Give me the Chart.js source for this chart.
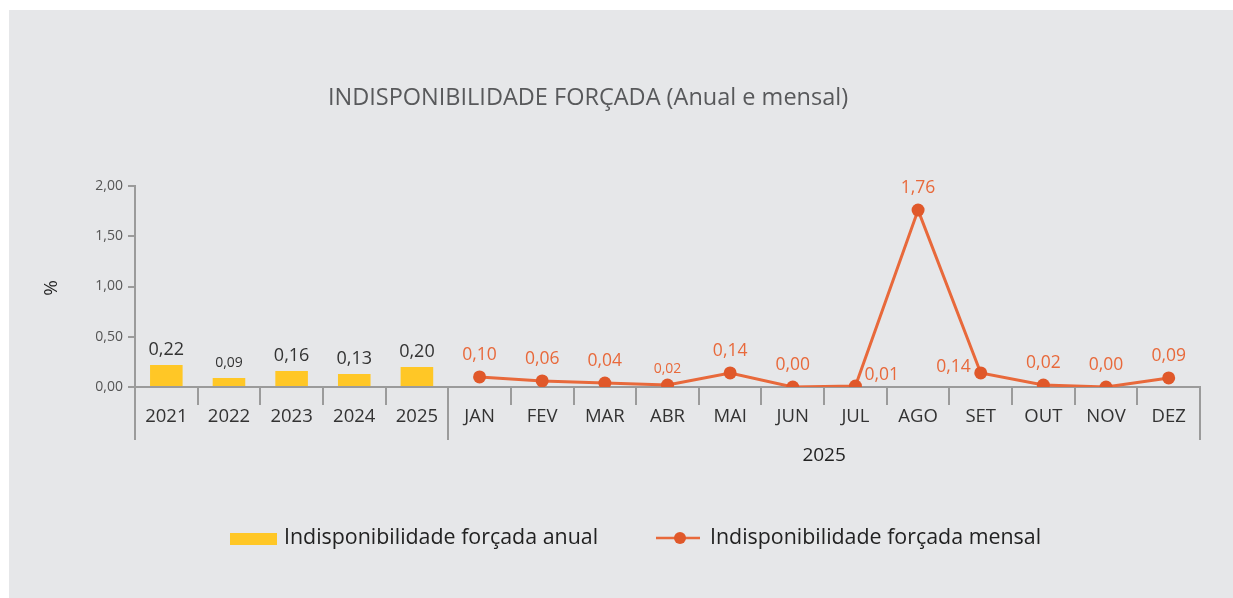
<!DOCTYPE html>
<html>
<head>
<meta charset="utf-8">
<script src="https://cdn.jsdelivr.net/npm/chart.js@4/dist/chart.umd.min.js"></script>
<style>
  html, body { margin: 0; padding: 0; background: #ffffff; }
  #panel { position: absolute; left: 9px; top: 10px; width: 1224px; height: 588px; background: #e6e7e9; }
  canvas { display: block; }
</style>
</head>
<body>
<div id="panel"><canvas id="chart" width="1224" height="588"></canvas></div>
<script>
const categories = ['2021', '2022', '2023', '2024', '2025', 'JAN', 'FEV', 'MAR', 'ABR', 'MAI', 'JUN', 'JUL', 'AGO', 'SET', 'OUT', 'NOV', 'DEZ'];
const annualValues = [0.22, 0.09, 0.16, 0.13, 0.20];
const monthlyValues = [0.10, 0.06, 0.04, 0.02, 0.14, 0.00, 0.01, 1.76, 0.14, 0.02, 0.00, 0.09];
const yTicks = [0, 0.5, 1, 1.5, 2];
const groupLabel = '2025';
const titleText = 'INDISPONIBILIDADE FORÇADA (Anual e mensal)';
const annualName = 'Indisponibilidade forçada anual';
const monthlyName = 'Indisponibilidade forçada mensal';

const FONT = '"Open Sans", "Noto Sans", sans-serif';
const AXIS = '#9b9b9b';
const YELLOW = '#ffc726';
const ORANGE = '#e0582a';
const ORANGE_TXT = '#e8693b';

// pad the series so bars sit on the years and the line on the months
const barData = annualValues.concat(monthlyValues.map(() => null));
const lineData = annualValues.map(() => null).concat(monthlyValues);

// label placement for the line points (small ones are drawn smaller)
const lineLabelPos = ['top', 'top', 'top', 'top', 'top', 'top', 'right', 'top', 'left', 'top', 'top', 'top'];
const lineLabelSize = [17.5, 17.5, 17.5, 14, 17.5, 17.5, 17.5, 17.5, 17.5, 17.5, 17.5, 17.5];
const barLabelSize = [18, 14, 18, 18, 18];

const fmt = v => v.toFixed(2).replace('.', ',');

const extras = {
  id: 'extras',
  afterDraw(chart) {
    const ctx = chart.ctx;
    const x = chart.scales.x;
    const area = chart.chartArea;
    const step = x.getPixelForValue(1) - x.getPixelForValue(0);
    ctx.save();

    // long separator ticks
    ctx.strokeStyle = AXIS;
    ctx.lineWidth = 2;
    [0, annualValues.length, categories.length].forEach(i => {
      const px = Math.round(x.getPixelForValue(0) - step / 2 + i * step);
      ctx.beginPath();
      ctx.moveTo(px, area.bottom);
      ctx.lineTo(px, area.bottom + 53);
      ctx.stroke();
    });

    // bar value labels
    const barMeta = chart.getDatasetMeta(0);
    ctx.textAlign = 'center';
    ctx.textBaseline = 'middle';
    ctx.fillStyle = '#333';
    annualValues.forEach((v, i) => {
      const el = barMeta.data[i];
      ctx.font = barLabelSize[i] + 'px ' + FONT;
      ctx.fillText(fmt(v), el.x, el.y - 15);
    });

    // line value labels
    const lineMeta = chart.getDatasetMeta(1);
    ctx.fillStyle = ORANGE_TXT;
    monthlyValues.forEach((v, i) => {
      const el = lineMeta.data[annualValues.length + i];
      ctx.font = lineLabelSize[i] + 'px ' + FONT;
      const pos = lineLabelPos[i];
      if (pos === 'right') {
        ctx.textAlign = 'left';
        ctx.fillText(fmt(v), el.x + 9, el.y - 11);
      } else if (pos === 'left') {
        ctx.textAlign = 'right';
        ctx.fillText(fmt(v), el.x - 10, el.y - 6);
      } else {
        ctx.textAlign = 'center';
        ctx.fillText(fmt(v), el.x, el.y - (lineLabelSize[i] < 16 ? 16 : 22));
      }
    });

    // group label under the months
    const gx = (x.getPixelForValue(annualValues.length) + x.getPixelForValue(categories.length - 1)) / 2;
    ctx.textAlign = 'center';
    ctx.fillStyle = '#222';
    ctx.font = '19px ' + FONT;
    ctx.fillText(groupLabel, gx, area.bottom + 69);

    // title
    ctx.fillStyle = '#58595b';
    ctx.font = '23.5px ' + FONT;
    ctx.fillText(titleText, 579, 88);

    // y axis name
    ctx.save();
    ctx.translate(43, 278);
    ctx.rotate(-Math.PI / 2);
    ctx.fillStyle = '#222';
    ctx.font = '19px ' + FONT;
    ctx.fillText('%', 0, 0);
    ctx.restore();

    // legend
    ctx.textAlign = 'left';
    ctx.font = '21.4px ' + FONT;
    ctx.fillStyle = YELLOW;
    ctx.fillRect(221, 523, 47, 12);
    ctx.fillStyle = '#222';
    ctx.fillText(annualName, 275, 528);
    ctx.strokeStyle = ORANGE_TXT;
    ctx.lineWidth = 2.5;
    ctx.beginPath();
    ctx.moveTo(647, 528);
    ctx.lineTo(691, 528);
    ctx.stroke();
    ctx.fillStyle = ORANGE;
    ctx.beginPath();
    ctx.arc(671, 528, 6, 0, Math.PI * 2);
    ctx.fill();
    ctx.fillStyle = '#222';
    ctx.fillText(monthlyName, 701, 528);

    ctx.restore();
  }
};

new Chart(document.getElementById('chart'), {
  type: 'bar',
  data: {
    labels: categories,
    datasets: [
      {
        label: annualName,
        data: barData,
        backgroundColor: YELLOW,
        barPercentage: 0.52,
        categoryPercentage: 1,
        order: 2
      },
      {
        type: 'line',
        label: monthlyName,
        data: lineData,
        borderColor: ORANGE_TXT,
        borderWidth: 3,
        pointRadius: 6.5,
        pointHoverRadius: 6.5,
        pointBackgroundColor: ORANGE,
        pointBorderWidth: 0,
        tension: 0,
        order: 1
      }
    ]
  },
  options: {
    responsive: false,
    animation: false,
    layout: { padding: { top: 176, right: 33, bottom: 150, left: 0 } },
    plugins: { legend: { display: false }, tooltip: { enabled: false } },
    scales: {
      x: {
        grid: { offset: true, drawOnChartArea: false, drawTicks: true, tickLength: 18, color: AXIS, lineWidth: 2 },
        border: { display: true, color: AXIS, width: 2 },
        ticks: { color: '#333', font: { family: FONT, size: 18.5 }, padding: 1, maxRotation: 0, autoSkip: false },
        afterFit(scale) { scale.height = 61; }
      },
      y: {
        min: 0,
        max: 2,
        afterBuildTicks(scale) { scale.ticks = yTicks.map(v => ({ value: v })); },
        grid: { drawOnChartArea: false, drawTicks: true, tickLength: 7, color: AXIS, lineWidth: 2 },
        border: { display: true, color: AXIS, width: 2 },
        ticks: { color: '#555', font: { family: FONT, size: 14 }, padding: 5, callback: v => fmt(v) },
        afterFit(scale) { scale.width = 126; }
      }
    }
  },
  plugins: [extras]
});
</script>
</body>
</html>
